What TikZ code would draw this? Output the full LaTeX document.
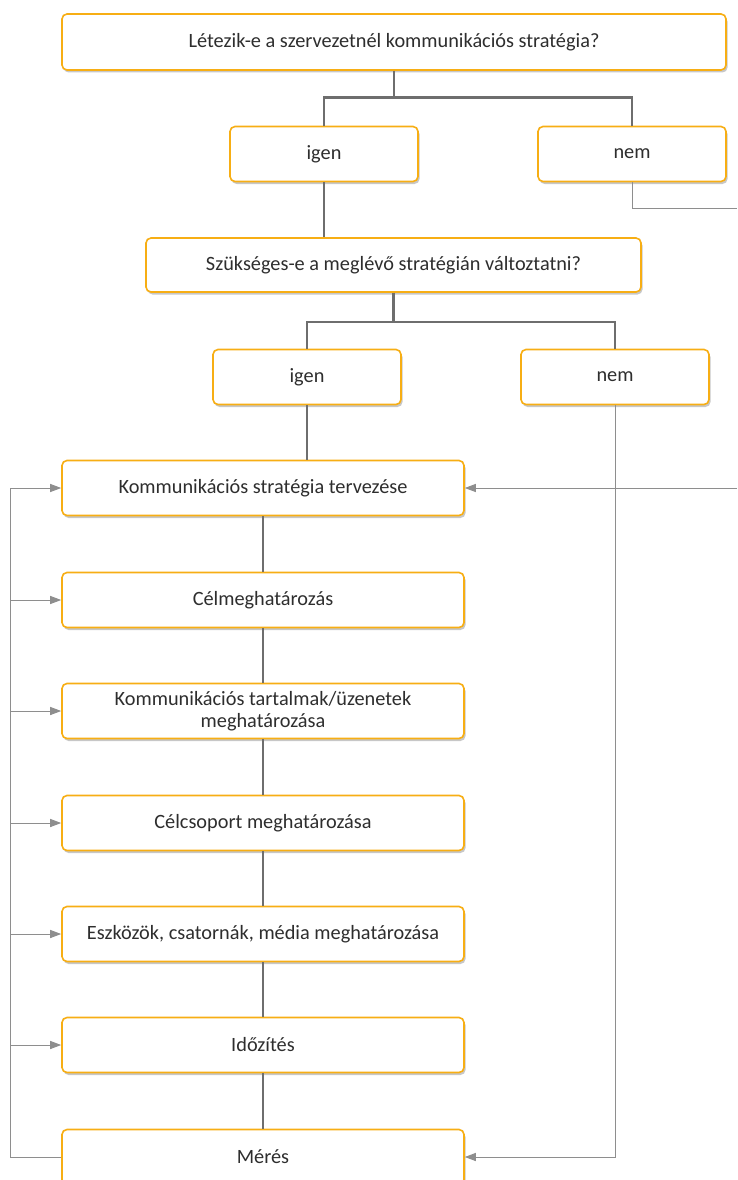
\documentclass[tikz,border=0pt]{standalone}
\usepackage{fontspec}
\setmainfont{Carlito}
\usetikzlibrary{arrows.meta,shadows}
\definecolor{boxorange}{HTML}{F7AE14}
\definecolor{thickgray}{HTML}{6E6E6E}
\definecolor{thingray}{HTML}{8E8E8E}
\definecolor{txt}{HTML}{2E2E2E}
\tikzset{
  fbox/.style={draw=boxorange, line width=1.6pt, rounded corners=5pt, fill=white,
    text=txt, font=\fontsize{20.3}{22.5}\selectfont, align=center, inner sep=2pt,
    drop shadow={shadow xshift=1.5pt, shadow yshift=-2.5pt, opacity=0.22, fill=black}},
  thickline/.style={draw=thickgray, line width=2.6pt},
  thinline/.style={draw=thingray, line width=1pt},
  arr/.style={thinline, -{Triangle[length=11pt,width=8pt]}, color=thingray}
}
\begin{document}
\begin{tikzpicture}[x=1pt,y=-1pt]
\useasboundingbox (0,0) rectangle (737,1180);
\clip (0,0) rectangle (737,1180);
\fill[white] (0,0) rectangle (737,1180);

\node[fbox, minimum width=664pt, minimum height=56pt] (top) at (394,42) {Létezik-e a szervezetnél kommunikációs stratégia?};
\node[fbox, minimum width=188pt, minimum height=55pt] (igen1) at (324,154) {igen};
\node[fbox, minimum width=188pt, minimum height=55pt] (nem1) at (632,154) {nem};
\node[fbox, minimum width=495pt, minimum height=54pt] (szuk) at (393.5,265) {Szükséges-e a meglévő stratégián változtatni?};
\node[fbox, minimum width=188pt, minimum height=55pt] (igen2) at (307,377) {igen};
\node[fbox, minimum width=188pt, minimum height=55pt] (nem2) at (615,377) {nem};

\node[fbox, minimum width=402pt, minimum height=55pt] (k1) at (263,488) {Kommunikációs stratégia tervezése};
\node[fbox, minimum width=402pt, minimum height=55pt] (k2) at (263,600) {Célmeghatározás};
\node[fbox, minimum width=402pt, minimum height=55pt] (k3) at (263,711) {Kommunikációs tartalmak/üzenetek\\meghatározása};
\node[fbox, minimum width=402pt, minimum height=55pt] (k4) at (263,823) {Célcsoport meghatározása};
\node[fbox, minimum width=402pt, minimum height=55pt] (k5) at (263,934) {Eszközök, csatornák, média meghatározása};
\node[fbox, minimum width=402pt, minimum height=55pt] (k6) at (263,1045) {Időzítés};
\node[fbox, minimum width=402pt, minimum height=55pt] (k7) at (263,1157) {Mérés};

% tree connectors
\draw[thickline] (top.south) -- ++(0,27) -| (igen1.north);
\draw[thickline] (top.south) -- ++(0,27) -| (nem1.north);
\draw[thickline] (igen1.south) -- (igen1.south |- szuk.north);
\draw[thickline] (szuk.south) -- ++(0,29) -| (igen2.north);
\draw[thickline] (szuk.south) -- ++(0,29) -| (nem2.north);
\draw[thickline] (igen2.south) -- (igen2.south |- k1.north);
\foreach \a/\b in {k1/k2,k2/k3,k3/k4,k4/k5,k5/k6,k6/k7}
  \draw[thickline] (\a.south) -- (\b.north);

% nem branches
\coordinate (redge1) at (737,208);
\coordinate (redge2) at (737,488);
\draw[thinline] (nem1.south) -- (nem1.south |- redge1) -- (redge1);
\draw[arr] (redge2) -- (k1.east);
\draw[arr] (nem2.south) -- (nem2.south |- k7.east) -- (k7.east);

% feedback loop
\coordinate (lb) at (10,1157);
\coordinate (lt) at (10,488);
\draw[thinline] (k7.west) -- (lb) -- (lt);
\foreach \k in {k1,k2,k3,k4,k5,k6}
  \draw[arr] (lt |- \k.west) -- (\k.west);
\end{tikzpicture}
\end{document}
